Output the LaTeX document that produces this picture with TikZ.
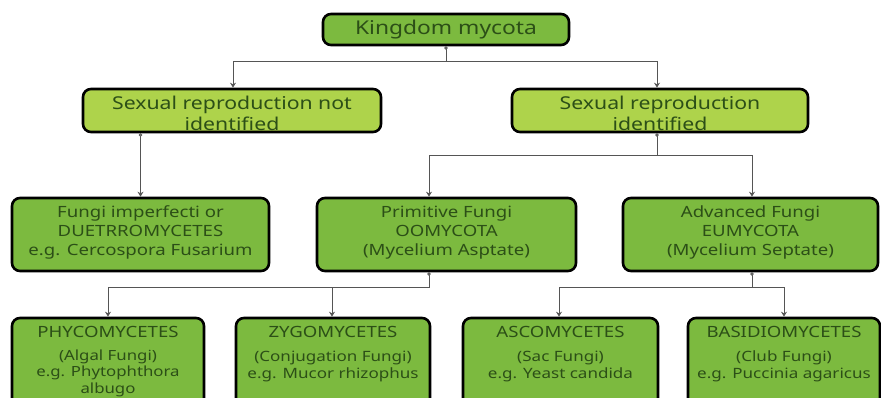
\documentclass[tikz,border=0pt]{standalone}
\usepackage{fontspec}
\setmainfont[FakeStretch=1.2]{Noto Sans}
\usetikzlibrary{arrows.meta}
\definecolor{gmid}{HTML}{7CBA3F}
\definecolor{glight}{HTML}{AED34B}
\definecolor{gtext}{HTML}{2C4F17}
\definecolor{lgray}{HTML}{555555}
\tikzset{
  box/.style={draw=black, line width=2.6pt, rounded corners=8pt, inner sep=0pt},
  midbox/.style={box, fill=gmid},
  lightbox/.style={box, fill=glight},
  txt/.style={text=gtext, align=center, inner sep=0pt},
  conn/.style={draw=lgray, line width=0.9pt, {Circle[open,length=3.5pt,width=3.5pt,fill=white]}-{Stealth[length=5pt,width=6pt,open]}},
  conn2/.style={draw=lgray, line width=0.9pt, -{Stealth[length=5pt,width=6pt,open]}},
}
\begin{document}
\begin{tikzpicture}[x=1pt,y=-1pt]
\useasboundingbox (0,0) rectangle (881,398);
\clip (0,0) rectangle (881,398);
% boxes
\node[midbox, minimum width=246pt, minimum height=31pt] (K) at (446,29.5) {};
\node[lightbox, minimum width=298pt, minimum height=43pt] (N) at (232,110.5) {};
\node[lightbox, minimum width=296pt, minimum height=43pt] (I) at (660,110.5) {};
\node[midbox, minimum width=257pt, minimum height=73pt] (F) at (140.5,234.5) {};
\node[midbox, minimum width=259pt, minimum height=73pt] (P) at (446.5,234.5) {};
\node[midbox, minimum width=255pt, minimum height=73pt] (A) at (750.5,234.5) {};
\node[midbox, minimum width=192pt, minimum height=90pt] (B1) at (108,363) {};
\node[midbox, minimum width=194pt, minimum height=90pt] (B2) at (333,363) {};
\node[midbox, minimum width=195pt, minimum height=90pt] (B3) at (560.5,363) {};
\node[midbox, minimum width=192pt, minimum height=90pt] (B4) at (784,363) {};
% texts
\node[txt, font=\fontsize{19}{21}\selectfont] (tK) at (446,29.5) {Kingdom mycota};
\node[txt, font=\fontsize{17.7}{21}\selectfont] (tN) at (232,113) {Sexual reproduction not\\identified};
\node[txt, font=\fontsize{17.7}{21}\selectfont] (tI) at (660,113) {Sexual reproduction\\identified};
\node[txt, font=\fontsize{15.5}{19.3}\selectfont] (tF) at (140.5,232.5) {Fungi imperfecti or\\DUETRROMYCETES\\e.g. Cercospora Fusarium};
\node[txt, font=\fontsize{15.5}{19.3}\selectfont] (tP) at (446.5,232.5) {Primitive Fungi\\OOMYCOTA\\(Mycelium Asptate)};
\node[txt, font=\fontsize{15.5}{19.3}\selectfont] (tA) at (750.5,232.5) {Advanced Fungi\\EUMYCOTA\\(Mycelium Septate)};
\node[txt, font=\fontsize{15.5}{18}\selectfont] (h1) at (108,332) {PHYCOMYCETES};
\node[txt, font=\fontsize{15.5}{18}\selectfont] (h2) at (333,332) {ZYGOMYCETES};
\node[txt, font=\fontsize{15.5}{18}\selectfont] (h3) at (560.5,332) {ASCOMYCETES};
\node[txt, font=\fontsize{15.5}{18}\selectfont] (h4) at (784,332) {BASIDIOMYCETES};
\node[txt, font=\fontsize{14}{16.6}\selectfont, anchor=north] (s1) at (108,349.5) {(Algal Fungi)\\e.g. Phytophthora\\albugo};
\node[txt, font=\fontsize{14.2}{17}\selectfont, anchor=north] (s2) at (333,350.5) {(Conjugation Fungi)\\e.g. Mucor rhizophus};
\node[txt, font=\fontsize{14.2}{17}\selectfont, anchor=north] (s3) at (560.5,350.5) {(Sac Fungi)\\e.g. Yeast candida};
\node[txt, font=\fontsize{14.2}{17}\selectfont, anchor=north] (s4) at (784,350.5) {(Club Fungi)\\e.g. Puccinia agaricus};
% connectors
\coordinate (j1) at (446,61);
\draw[conn] (K.south) -- (j1) -| ([xshift=1pt]N.north);
\draw[conn2] (j1) -| ([xshift=-3pt]I.north);
\draw[conn] (N.south -| F.north) -- (F.north);
\coordinate (j2) at (657,155);
\draw[conn] ([xshift=-3pt]I.south) -- (j2) -| ([xshift=-17.5pt]P.north);
\draw[conn2] (j2) -| ([xshift=1.5pt]A.north);
\coordinate (j3) at (429,287);
\draw[conn] ([xshift=-17.5pt]P.south) -- (j3) -| (B1.north);
\draw[conn2] (j3) -| ([xshift=-1pt]B2.north);
\coordinate (j4) at (752,287);
\draw[conn] ([xshift=1.5pt]A.south) -- (j4) -| ([xshift=-1.5pt]B3.north);
\draw[conn2] (j4) -| (B4.north);
\end{tikzpicture}
\end{document}
